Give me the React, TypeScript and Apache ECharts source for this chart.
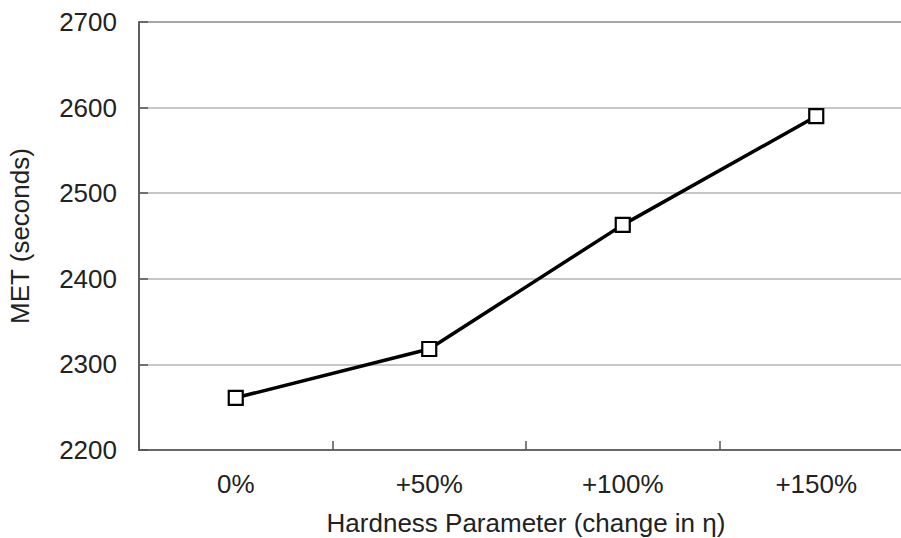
import React, { useEffect, useRef } from "react";
import * as echarts from "echarts";

const categories = ["0%", "+50%", "+100%", "+150%"];
const metValues = [2261, 2318, 2463, 2590];
const yTicks = { min: 2200, max: 2700, interval: 100 };
const xAxisTitle = "Hardness Parameter (change in η)";
const yAxisTitle = "MET (seconds)";

export default function App() {
  const ref = useRef<HTMLDivElement>(null);
  useEffect(() => {
    if (!ref.current) return;
    const chart = echarts.init(ref.current, undefined, { renderer: "svg" });
    const font = "Liberation Sans, Arial, sans-serif";
    chart.setOption({
      animation: false,
      backgroundColor: "#ffffff",
      grid: {
        left: 139,
        top: 22,
        width: 774,
        height: 428,
        outerBoundsMode: "none",
        containLabel: false,
        show: true,
        borderColor: "#555",
        borderWidth: 1.5,
        backgroundColor: "transparent",
      },
      xAxis: {
        type: "category",
        data: categories,
        boundaryGap: true,
        name: xAxisTitle,
        nameLocation: "middle",
        nameGap: 60,
        nameTextStyle: { fontFamily: font, fontSize: 26, color: "#222" },
        axisLine: { show: true, lineStyle: { color: "#555", width: 1.5 } },
        axisTick: { show: true, inside: true, length: 9, lineStyle: { color: "#555", width: 1.5 } },
        axisLabel: { fontFamily: font, fontSize: 26, color: "#222", margin: 21 },
        splitLine: { show: false },
      },
      yAxis: {
        type: "value",
        min: yTicks.min,
        max: yTicks.max,
        interval: yTicks.interval,
        name: yAxisTitle,
        nameLocation: "middle",
        nameGap: 106,
        nameTextStyle: { fontFamily: font, fontSize: 26, color: "#222" },
        axisLine: { show: true, lineStyle: { color: "#555", width: 1.5 } },
        axisTick: { show: true, inside: true, length: 9, lineStyle: { color: "#555", width: 1.5 } },
        axisLabel: {
          fontFamily: font,
          fontSize: 26,
          color: "#222",
          margin: 22,
          formatter: (v: number) => String(v),
        },
        splitLine: { show: true, lineStyle: { color: "#b5b5b5", width: 1.5 } },
      },
      series: [
        {
          type: "line",
          data: metValues,
          symbol: "rect",
          symbolSize: 14,
          showSymbol: true,
          lineStyle: { color: "#000", width: 3.5 },
          itemStyle: { color: "#fff", borderColor: "#000", borderWidth: 2.2 },
          z: 5,
        },
      ],
    });
    return () => chart.dispose();
  }, []);
  return (
    <div
      ref={ref}
      style={{ position: "fixed", left: 0, top: 0, width: 901, height: 538, background: "#fff" }}
    />
  );
}
